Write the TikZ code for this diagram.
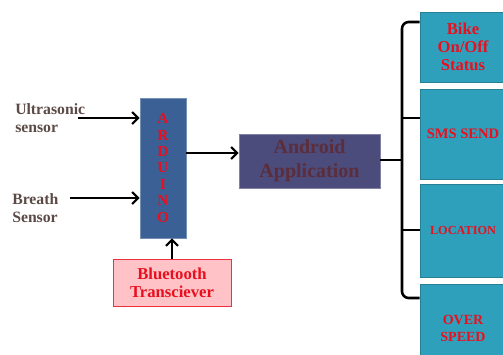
\documentclass[tikz,border=0pt]{standalone}
\usepackage{fontspec}
\setmainfont{Liberation Serif}
\usetikzlibrary{arrows.meta,calc,shadows}
\definecolor{ardblue}{HTML}{3A6095}
\definecolor{andblue}{HTML}{4B4B7C}
\definecolor{andtext}{HTML}{5C2D3A}
\definecolor{teal}{HTML}{2FA0BC}
\definecolor{redtext}{HTML}{E8101E}
\definecolor{senstext}{HTML}{5B4A45}
\definecolor{btfill}{HTML}{FFC2C6}
\definecolor{btborder}{HTML}{F03040}
\tikzset{
  box/.style={draw, line width=0.4pt, inner sep=0pt, align=center, font=\bfseries,
    drop shadow={shadow xshift=0.8pt, shadow yshift=-0.8pt, opacity=0.25}},
  conn/.style={line width=1.9pt, -{Straight Barb[length=4.5pt, width=9pt, line width=1.6pt]}},
  brace/.style={line width=1.9pt, rounded corners=5pt},
  senslabel/.style={align=left, text=senstext, font=\fontsize{11.8}{14}\selectfont\bfseries, inner sep=0pt},
  rbox/.style={box, fill=teal, draw=teal!80!black, text=redtext, minimum width=86*0.75pt}
}
\begin{document}
\begin{tikzpicture}[x=0.75pt,y=-0.75pt]
\useasboundingbox (0,0) rectangle (503,354);
\clip (0,0) rectangle (503,354);
% sensors
\node[senslabel, anchor=west] (us) at (15,118) {Ultrasonic\\sensor};
\node[senslabel, anchor=west] (br) at (12,208) {Breath\\Sensor};
\coordinate (usa) at (78,118);
\coordinate (bra) at (70,198);
% arduino
\node[box, fill=ardblue, draw=ardblue!70!white, minimum width=46*0.75pt, minimum height=140*0.75pt,
  text=redtext, font=\fontsize{11.5}{12.3}\selectfont\bfseries] (ard) at (163,168) {A\\R\\D\\U\\I\\N\\O};
% android
\node[box, fill=andblue, draw=andblue!70!white, minimum width=141*0.75pt, minimum height=54*0.75pt,
  text=andtext, font=\fontsize{15}{18}\selectfont\bfseries] (and) at (309.5,161) {Android\\Application};
% bluetooth
\node[box, fill=btfill, draw=btborder, minimum width=118*0.75pt, minimum height=47*0.75pt,
  text=redtext, font=\fontsize{12.5}{13.5}\selectfont\bfseries] (bt) at (172,282.5) {Bluetooth\\Transciever};
% right boxes
\node[rbox, minimum height=70*0.75pt, font=\fontsize{12.5}{13.5}\selectfont\bfseries] (b1) at (463,47) {Bike\\On/Off\\Status};
\node[rbox, minimum height=90*0.75pt, font=\fontsize{10.9}{13}\selectfont\bfseries] (b2) at (463,134) {SMS SEND};
\node[rbox, minimum height=93*0.75pt, font=\fontsize{9.2}{11}\selectfont\bfseries] (b3) at (463,230.5) {LOCATION};
\node[rbox, minimum height=88*0.75pt, font=\fontsize{10.5}{12.8}\selectfont\bfseries] (b4) at (463,328) {OVER\\SPEED};
% arrows
\draw[conn] (usa) -- (ard.west |- usa);
\draw[conn] (bra) -- (ard.west |- bra);
\draw[conn] ($(ard.east)+(0,-15)$) -- ($(and.west)+(0,-8)$);
\draw[conn] (bt.north) -- (ard.south -| bt.north);
% brace
\coordinate (bx) at (402,160);
\coordinate (t1) at (b1.west |- 0,22);
\coordinate (t2) at (b2.west |- 0,118);
\coordinate (t3) at (b3.west |- 0,230);
\coordinate (t4) at (b4.west |- 0,298);
\draw[line width=1.9pt] (and.east |- bx) -- (bx);
\draw[brace] (t1) -- (bx |- t1) -- (bx |- t4) -- (t4);
\draw[line width=1.9pt] (bx |- t2) -- (t2);
\draw[line width=1.9pt] (bx |- t3) -- (t3);
\end{tikzpicture}
\end{document}
